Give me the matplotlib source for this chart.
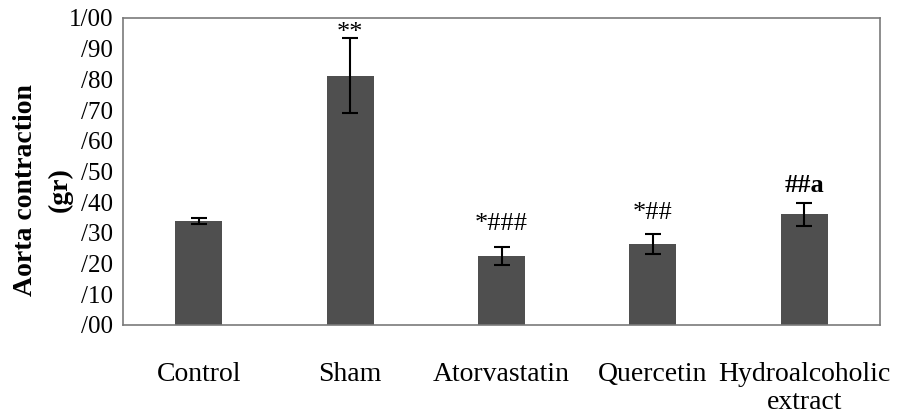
import matplotlib.pyplot as plt
import numpy as np

# data
groups = ['Control', 'Sham', 'Atorvastatin', 'Quercetin', 'Hydroalcoholic\nextract']
means = [0.339, 0.812, 0.225, 0.265, 0.360]
errs = [0.011, 0.122, 0.028, 0.033, 0.037]
marks = ['', '**', '*###', '*##', '##a']
ytick_vals = [0.0, 0.1, 0.2, 0.3, 0.4, 0.5, 0.6, 0.7, 0.8, 0.9, 1.0]
ytick_labels = ['/00', '/10', '/20', '/30', '/40', '/50', '/60', '/70', '/80', '/90', '1/00']

plt.rcParams['font.family'] = ['Liberation Serif', 'DejaVu Serif']

fig = plt.figure(figsize=(8.98, 4.18), dpi=100)
ax = fig.add_axes([0.137, 0.2225, 0.843, 0.7345])

x = np.arange(len(groups))
ax.bar(x, means, width=0.31, color='#4f4f4f', zorder=2)
ax.errorbar(x, means, yerr=errs, fmt='none', ecolor='black', elinewidth=1.5,
            capsize=6, capthick=1.5, zorder=3)

# significance marks above the error bars
gaps = [0, -0.02, 0.04, 0.03, 0.02]
for i in range(len(groups)):
    if marks[i] == '':
        continue
    weight = 'bold' if marks[i] == '##a' else 'normal'
    ax.text(x[i], means[i] + errs[i] + gaps[i], marks[i], ha='center', va='bottom',
            fontsize=19, fontweight=weight)

ax.set_xlim(-0.5, len(groups) - 0.5)
ax.set_ylim(0, 1.0)
ax.set_yticks(ytick_vals)
ax.set_yticklabels(ytick_labels, fontsize=18)
ax.set_xticks(x)
ax.set_xticklabels(groups, fontsize=20, linespacing=1.15)
ax.tick_params(axis='both', length=0)
ax.tick_params(axis='y', pad=7)
ax.tick_params(axis='x', pad=27)

for s in ax.spines.values():
    s.set_color('#7a7a7a')
    s.set_linewidth(1.2)

ax.set_ylabel('Aorta contraction\n(gr)', fontsize=20, fontweight='bold', linespacing=1.5)
ax.yaxis.set_label_coords(-0.067, 0.44)

fig.savefig('out.png', dpi=100)
